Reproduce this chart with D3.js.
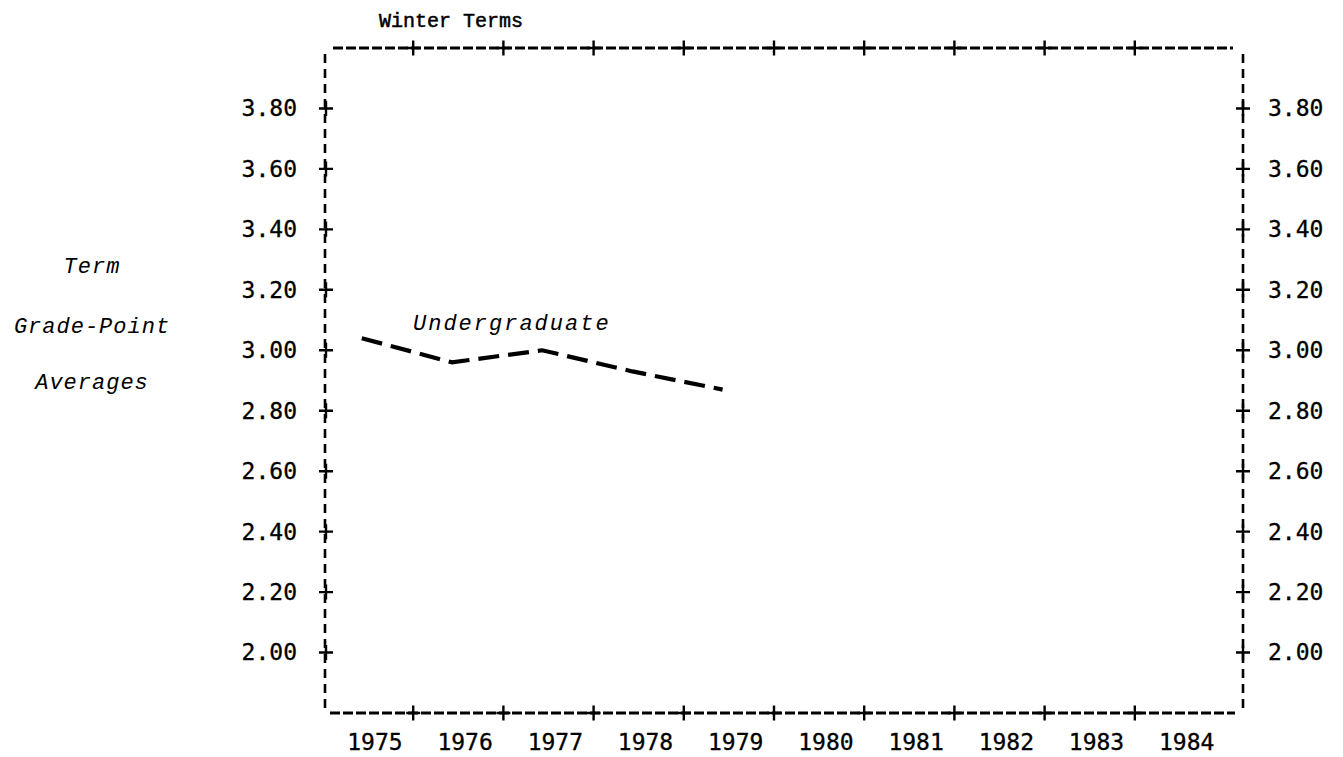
<!DOCTYPE html>
<html>

<head>
  <title>Winter Terms</title>
  <style type="text/css">
    body {
      margin: 0;
      background: #fff;
    }

    .mono {
      font-family: "DejaVu Sans Mono", monospace;
      font-size: 23px;
      fill: #000;
      stroke: #000;
      stroke-width: 0.3px;
    }

    .type {
      font-family: "Liberation Mono", "Courier New", monospace;
      fill: #000;
    }
  </style>
</head>

<body>
  <div id="chart"></div>
  <script type="text/javascript" src="https://cdn.jsdelivr.net/npm/d3@7/dist/d3.min.js"></script>
  <script type="text/javascript">
    var title = "Winter Terms";
    var years = [1975, 1976, 1977, 1978, 1979, 1980, 1981, 1982, 1983, 1984];
    var yTicks = [2.00, 2.20, 2.40, 2.60, 2.80, 3.00, 3.20, 3.40, 3.60, 3.80];
    var yTitle = ["Term", "Grade-Point", "Averages"];
    var seriesName = "Undergraduate";
    var seriesYears = [1975, 1976, 1977, 1978, 1979];
    var undergrad = [3.04, 2.96, 3.00, 2.93, 2.87];

    var w = 1343, h = 757;
    var frameL = 325, frameR = 1243, frameT = 48, frameB = 713;

    var svg = d3.select("#chart").append("svg")
      .attr("width", w)
      .attr("height", h);

    // each year gets one column; 1984's column stops short of the frame
    var x = d3.scaleLinear().domain([1975, 1985]).range([323, 1225]);
    var y = d3.scaleLinear().domain([1.8, 4.0]).range([frameB, frameT]);

    var black = "#000";

    // frame
    svg.append("line")
      .attr("x1", 333).attr("x2", 1233).attr("y1", frameT).attr("y2", frameT)
      .attr("stroke", black).attr("stroke-width", 2.8)
      .attr("stroke-dasharray", "10,3");
    svg.append("line")
      .attr("x1", 330).attr("x2", 1235).attr("y1", frameB).attr("y2", frameB)
      .attr("stroke", black).attr("stroke-width", 2.8)
      .attr("stroke-dasharray", "10,3");
    [frameL, frameR].forEach(function (xx) {
      svg.append("line")
        .attr("x1", xx).attr("x2", xx).attr("y1", 54).attr("y2", frameB - 1)
        .attr("stroke", black).attr("stroke-width", 2.6)
        .attr("stroke-dasharray", "9,6");
    });

    function plus(g, cx, cy) {
      g.append("path")
        .attr("d", "M" + (cx - 7) + "," + cy + "H" + (cx + 7) + "M" + cx + "," + (cy - 7.5) + "V" + (cy + 7.5))
        .attr("stroke", black).attr("stroke-width", 2.4).attr("fill", "none");
    }

    // y axes, labels by d3, "+" marks drawn on top
    var yl = svg.append("g")
      .attr("transform", "translate(" + frameL + ",0)")
      .call(d3.axisLeft(y).tickValues(yTicks).tickSize(0).tickPadding(28).tickFormat(d3.format(".2f")));
    var yr = svg.append("g")
      .attr("transform", "translate(" + frameR + ",0)")
      .call(d3.axisRight(y).tickValues(yTicks).tickSize(0).tickPadding(25).tickFormat(d3.format(".2f")));
    [yl, yr].forEach(function (g) {
      g.select(".domain").remove();
      g.attr("font-size", null).attr("font-family", null);
      g.selectAll("text").attr("class", "mono");
    });

    yTicks.forEach(function (t) {
      plus(svg, frameL + 1, y(t));
      plus(svg, frameR, y(t));
    });

    // x axis: boundaries between years get "+", years sit in their columns
    years.slice(1).forEach(function (yr0) {
      plus(svg, x(yr0), frameT);
      plus(svg, x(yr0), frameB);
    });

    var xLab = d3.scaleLinear().domain(x.domain())
      .range(x.range().map(function (r) { return r + 0.57 * 90.2; }));
    var xa = svg.append("g")
      .attr("transform", "translate(0," + frameB + ")")
      .call(d3.axisBottom(xLab).tickValues(years).tickSize(0).tickPadding(21).tickFormat(d3.format("d")));
    xa.select(".domain").remove();
    xa.attr("font-size", null).attr("font-family", null);
    xa.selectAll("text").attr("class", "mono");

    // title
    svg.append("text").attr("class", "type")
      .attr("x", 451).attr("y", 27)
      .attr("text-anchor", "middle")
      .attr("font-size", 20)
      .attr("stroke", black)
      .attr("stroke-width", 0.5)
      .text(title);

    // y title
    var ty = [273, 333, 389];
    yTitle.forEach(function (s, i) {
      svg.append("text").attr("class", "type")
        .attr("x", 92).attr("y", ty[i])
        .attr("text-anchor", "middle")
        .attr("font-size", 22)
        .attr("font-style", "italic")
        .attr("letter-spacing", 1)
        .text(s);
    });

    // series
    var line = d3.line()
      .x(function (d, i) { return x(seriesYears[i] + 0.43); })
      .y(function (d) { return y(d); });

    svg.append("path")
      .datum(undergrad)
      .attr("d", line)
      .attr("fill", "none")
      .attr("stroke", black)
      .attr("stroke-width", 4.2)
      .attr("stroke-dasharray", "21,9");

    svg.append("text").attr("class", "type")
      .attr("x", 413).attr("y", 330)
      .attr("font-size", 22)
      .attr("font-style", "italic")
      .attr("letter-spacing", 2)
      .text(seriesName);
  </script>
</body>

</html>
